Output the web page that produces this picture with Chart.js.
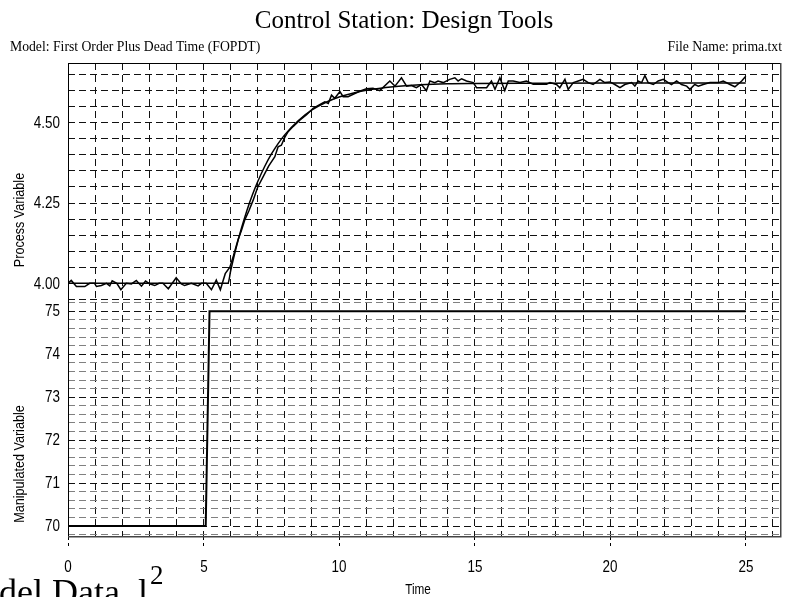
<!DOCTYPE html>
<html><head><meta charset="utf-8">
<script src="https://cdn.jsdelivr.net/npm/chart.js@4.4.1/dist/chart.umd.min.js"></script>
<style>
html,body{margin:0;padding:0;background:#fff;overflow:hidden}
#wrap{position:relative;width:808px;height:597px;overflow:hidden;background:#fff}
#c{position:absolute;left:0;top:0;width:808px;height:597px}
.t{position:absolute;white-space:nowrap;line-height:1;color:#000}
.serif{font-family:"Liberation Serif","Times New Roman",serif}
.sans{font-family:"Liberation Sans",Arial,sans-serif}
</style></head><body>
<div id="wrap">
<canvas id="c" width="808" height="597"></canvas>
<div class="t serif" style="left:0;width:808px;text-align:center;top:7px;font-size:25px">Control Station: Design Tools</div>
<div class="t serif" style="left:10px;top:39.5px;font-size:13.7px">Model: First Order Plus Dead Time (FOPDT)</div>
<div class="t serif" style="right:26px;top:39.5px;font-size:13.7px">File Name: prima.txt</div>
<div class="t sans" style="left:18px;top:220px;font-size:15px;transform:translate(-50%,-50%) rotate(-90deg) scaleX(0.84)">Process Variable</div>
<div class="t sans" style="left:18px;top:464px;font-size:15px;transform:translate(-50%,-50%) rotate(-90deg) scaleX(0.84)">Manipulated Variable</div>
<div class="t sans" style="left:418px;top:582px;font-size:14px;transform:translateX(-50%) scaleX(0.84)">Time</div>
<div class="t serif" style="left:-1px;top:574.4px;font-size:36px">del Data, l</div>
<div class="t serif" style="left:150px;top:562px;font-size:27px">2</div>
</div>
<script>
// ---- data ----
const pvTime = [0,0.12,0.31,0.62,0.80,0.98,1.05,1.23,1.42,1.54,1.63,1.80,1.95,2.15,2.34,2.52,2.71,2.86,3.01,3.20,3.36,3.50,3.70,3.99,4.18,4.30,4.55,4.80,4.92,5.10,5.29,5.47,5.62,5.80,5.97,
 6.10,6.27,6.40,6.52,6.67,6.83,7.00,7.20,7.40,7.63,7.75,7.87,8.00,8.12,8.30,8.55,8.80,9.04,9.25,9.47,9.60,9.72,9.84,10.03,10.15,10.33,10.58,
 10.76,11.01,11.25,11.50,11.87,12.06,12.30,12.49,12.67,12.85,13.04,13.22,13.35,13.53,13.65,13.84,14.08,14.27,14.39,14.52,14.70,14.95,15.07,15.44,15.62,15.75,15.93,16.11,16.24,16.42,16.67,16.91,17.16,17.41,17.65,
 17.78,18.02,18.14,18.33,18.45,18.64,18.82,19.00,19.19,19.37,19.62,19.80,19.99,20.17,20.36,20.54,20.79,20.91,21.03,21.16,21.28,21.40,21.59,21.77,21.96,22.14,22.26,22.45,22.63,22.82,22.94,23.12,23.25,23.43,23.68,23.99,24.17,24.42,24.60,24.85,25.00];
const pvData = [4.000,4.009,3.990,3.990,4.000,4.000,3.990,3.993,4.000,3.992,4.008,4.000,3.980,4.000,3.998,4.009,3.991,4.007,3.998,3.993,4.000,4.000,3.983,4.017,3.998,3.993,4.000,3.992,4.000,4.000,3.980,4.010,3.980,4.030,4.050,
 4.085,4.135,4.165,4.197,4.225,4.259,4.300,4.332,4.365,4.394,4.425,4.430,4.455,4.472,4.488,4.508,4.525,4.545,4.555,4.565,4.560,4.586,4.576,4.597,4.581,4.581,4.591,
 4.598,4.606,4.607,4.600,4.630,4.614,4.640,4.614,4.616,4.609,4.619,4.600,4.630,4.625,4.630,4.625,4.635,4.640,4.630,4.637,4.630,4.625,4.609,4.609,4.630,4.604,4.640,4.600,4.630,4.630,4.625,4.630,4.620,4.620,4.620,
 4.625,4.619,4.609,4.635,4.604,4.625,4.630,4.635,4.625,4.619,4.635,4.625,4.627,4.619,4.609,4.619,4.625,4.614,4.630,4.625,4.647,4.625,4.619,4.630,4.635,4.625,4.619,4.630,4.619,4.614,4.604,4.619,4.614,4.619,4.625,4.625,4.630,4.619,4.612,4.630,4.645];
const modelTime = [0,5.9,6.0,6.2,6.4,6.6,6.8,7.0,7.25,7.5,7.75,8.0,8.5,9.0,9.5,10,10.5,11,12,13,14,15,17,20,25];
const modelData = [4.000,4.000,4.039,4.110,4.172,4.227,4.275,4.317,4.363,4.402,4.435,4.463,4.507,4.540,4.563,4.580,4.592,4.601,4.612,4.618,4.621,4.622,4.623,4.624,4.624];
const mvTime = [0,5.08,5.22,25];
const mvData = [70,70,75,75];
const xGrid = [0,1,2,3,4,5,6,7,8,9,10,11,12,13,14,15,16,17,18,19,20,21,22,23,24,25,26];
const xTickLabels = [0,5,10,15,20,25];
const pvGrid = [3.95,4.00,4.05,4.10,4.15,4.20,4.25,4.30,4.35,4.40,4.45,4.50,4.55,4.60,4.65];
const pvTickLabels = [4.00,4.25,4.50];
const mvGrid = [69.8,70,70.2,70.4,70.6,70.8,71,71.2,71.4,71.6,71.8,72,72.2,72.4,72.6,72.8,73,73.2,73.4,73.6,73.8,74,74.2,74.4,74.6,74.8,75,75.2];
const mvTickLabels = [70,71,72,73,74,75];

const near = (a,b) => Math.abs(a-b) < 1e-6;
const inList = (v, list) => list.some(l => near(l, v));
const pts = (xs, ys) => xs.map((x,i) => ({x:x, y:ys[i]}));

const framePlugin = {
  id: 'frame',
  afterDraw(chart){
    const {ctx, chartArea:a} = chart;
    ctx.save();
    ctx.lineWidth = 1;
    ctx.strokeStyle = '#000';
    ctx.beginPath();
    ctx.moveTo(a.left+0.5, a.bottom); ctx.lineTo(a.left+0.5, a.top+0.5); ctx.lineTo(a.right, a.top+0.5);
    ctx.stroke();
    ctx.strokeStyle = '#444';
    ctx.lineWidth = 1.5;
    ctx.beginPath();
    ctx.moveTo(a.right-0.25, a.top); ctx.lineTo(a.right-0.25, a.bottom-0.25); ctx.lineTo(a.left, a.bottom-0.25);
    ctx.stroke();
    ctx.restore();
  }
};

const chart = new Chart(document.getElementById('c'), {
  type: 'line',
  data: { datasets: [
    {label:'Process data', data: pts(pvTime, pvData), yAxisID:'yPV', borderColor:'#000', borderWidth:1.5, pointRadius:0, tension:0, fill:false},
    {label:'FOPDT model', data: pts(modelTime, modelData), yAxisID:'yPV', borderColor:'#000', borderWidth:1.5, pointRadius:0, cubicInterpolationMode:'monotone', fill:false},
    {label:'Manipulated variable', data: pts(mvTime, mvData), yAxisID:'yMV', borderColor:'#000', borderWidth:2, pointRadius:0, tension:0, fill:false}
  ]},
  options: {
    responsive:false, animation:false, devicePixelRatio:1,
    layout:{padding:{left:0, top:63, right:27, bottom:0}},
    plugins:{legend:{display:false}, tooltip:{enabled:false}, title:{display:false}},
    scales:{
      x:{
        type:'linear', position:'bottom', min:0, max:26.3,
        afterBuildTicks: s => { s.ticks = xGrid.map(v => ({value:v})); },
        afterFit: s => { s.height = 60; },
        ticks:{display:false, autoSkip:false},
        grid:{color:'#111', lineWidth:1, drawTicks:true, tickLength:11,
          tickColor: c => (c.tick && inList(c.tick.value, xTickLabels)) ? '#000' : 'rgba(0,0,0,0)',
          tickBorderDash:[3,3]},
        border:{display:false, dash:[7,5]}
      },
      yMV:{
        type:'linear', position:'left', stack:'v', stackWeight:1, weight:1,
        min:69.744, max:75.263,
        afterBuildTicks: s => { s.ticks = mvGrid.map(v => ({value:v})); },
        afterFit: s => { s.width = 68; },
        ticks:{display:false, autoSkip:false},
        grid:{drawTicks:false, lineWidth:1,
          color: c => (c.tick && inList(c.tick.value, mvTickLabels)) ? '#111' : '#808080'},
        border:{display:false, dash:[7,4]}
      },
      yPV:{
        type:'linear', position:'left', stack:'v', stackWeight:1, weight:2,
        min:3.948, max:4.686,
        afterBuildTicks: s => { s.ticks = pvGrid.map(v => ({value:v})); },
        afterFit: s => { s.width = 68; },
        ticks:{display:false, autoSkip:false},
        grid:{drawTicks:false, lineWidth:1, color:'#111'},
        border:{display:false, dash:[7,4]}
      }
    }
  },
  plugins:[framePlugin]
});

// tick labels as real text, placed through the chart's own scales
const wrap = document.getElementById('wrap');
function addLabel(text, css){
  const d = document.createElement('div');
  d.className = 't sans';
  d.textContent = text;
  Object.assign(d.style, css);
  wrap.appendChild(d);
}
const FS = 16, CENTER = 7.8;
xTickLabels.forEach(v => {
  const px = chart.scales.x.getPixelForValue(v);
  addLabel(String(v), {left: px + 'px', top: (566.5 - CENTER) + 'px', fontSize: FS + 'px', transform: 'translateX(-50%) scaleX(0.84)'});
});
pvTickLabels.forEach(v => {
  const py = chart.scales.yPV.getPixelForValue(v);
  addLabel(v.toFixed(2), {left: '0px', width: '60px', textAlign: 'right', top: (py - CENTER) + 'px', fontSize: FS + 'px', transformOrigin: '100% 50%', transform: 'scaleX(0.84)'});
});
mvTickLabels.forEach(v => {
  const py = chart.scales.yMV.getPixelForValue(v);
  addLabel(String(v), {left: '0px', width: '60px', textAlign: 'right', top: (py - CENTER) + 'px', fontSize: FS + 'px', transformOrigin: '100% 50%', transform: 'scaleX(0.84)'});
});
</script>
</body></html>
